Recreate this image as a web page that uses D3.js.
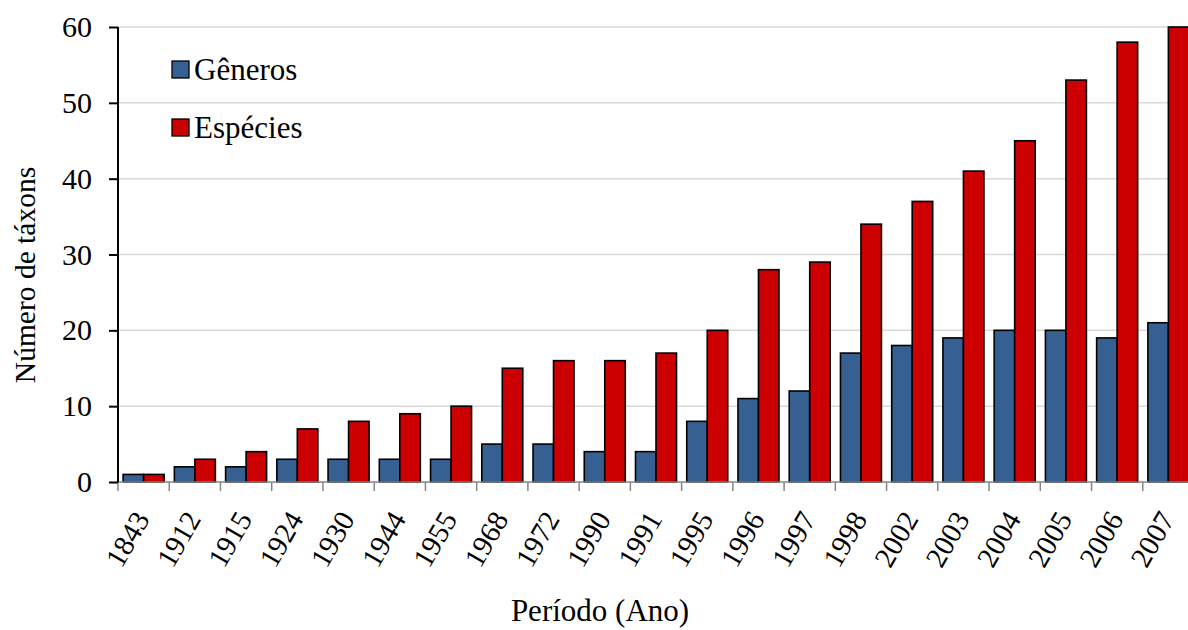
<!DOCTYPE html>
<html><head><meta charset="utf-8">
<script src="https://cdn.jsdelivr.net/npm/d3@7"></script>
<style>body{margin:0;background:#fff}svg{display:block}</style>
</head><body><svg id="c" width="1188" height="630"></svg>
<script>
const categories=["1843","1912","1915","1924","1930","1944","1955","1968","1972","1990","1991","1995","1996","1997","1998","2002","2003","2004","2005","2006","2007"];
const generos=[1,2,2,3,3,3,3,5,5,4,4,8,11,12,17,18,19,20,20,19,21];
const especies=[1,3,4,7,8,9,10,15,16,16,17,20,28,29,34,37,41,45,53,58,60];
const seriesNames=["Gêneros","Espécies"];
const colors=["#376092","#CC0000"];
const yTicks=[0,10,20,30,40,50,60];

(function(){
const FF="'Liberation Serif'";
const svg=d3.select("#c");
const pL=118,pR=1194,pT=27,pB=482;
const x=d3.scaleBand().domain(categories).range([pL,pR]).paddingInner(0).paddingOuter(0);
const x1=d3.scaleBand().domain([0,1]).range([0,x.bandwidth()]).paddingOuter(0.25).paddingInner(0);
const y=d3.scaleLinear().domain([0,60]).range([pB,pT]);

svg.append("g").selectAll("line").data(yTicks.filter(d=>d>0)).join("line")
 .attr("x1",pL).attr("x2",1188).attr("y1",d=>y(d)).attr("y2",d=>y(d))
 .attr("stroke","#d9d9d9").attr("stroke-width",1.5);

const data=categories.map((c,i)=>({c,v:[generos[i],especies[i]]}));
const g=svg.append("g");
data.forEach(d=>{
  d.v.forEach((v,k)=>{
    g.append("rect").attr("x",x(d.c)+x1(k)).attr("y",y(v)).attr("width",x1.bandwidth()).attr("height",y(0)-y(v))
     .attr("fill",colors[k]).attr("stroke","#000").attr("stroke-width",1.6);
  });
});

const xa=svg.append("g");
xa.append("line").attr("x1",pL).attr("x2",1188).attr("y1",pB).attr("y2",pB).attr("stroke","#868686").attr("stroke-width",1.5);
const bounds=categories.map(c=>x(c));
xa.selectAll("line.t").data(bounds).join("line").attr("class","t")
 .attr("x1",d=>d).attr("x2",d=>d).attr("y1",pB).attr("y2",pB+9).attr("stroke","#868686").attr("stroke-width",1.5);
xa.selectAll("text").data(categories).join("text")
 .attr("transform",d=>`translate(${x(d)+x.bandwidth()/2+7},${pB+37}) rotate(-60)`)
 .attr("text-anchor","end").style("font-family",FF).style("font-size","29px").attr("fill","#000").text(d=>d);

const ya=svg.append("g").attr("transform",`translate(${pL},0)`);
ya.call(d3.axisLeft(y).tickValues(yTicks).tickSize(9).tickPadding(17).tickFormat(d3.format("d")));
ya.select(".domain").attr("stroke","#000").attr("stroke-width",2).attr("d",`M0,${pT}V${pB}`);
ya.selectAll(".tick line").attr("stroke","#000").attr("stroke-width",2);
ya.selectAll(".tick text").style("font-size","30px").style("font-family",FF).attr("fill","#000");

svg.append("text").attr("transform","translate(35,275) rotate(-90)").attr("text-anchor","middle")
 .style("font-family",FF).style("font-size","29.5px").attr("fill","#000").text("Número de táxons");
svg.append("text").attr("x",600).attr("y",621).attr("text-anchor","middle")
 .style("font-family",FF).style("font-size","31px").attr("fill","#000").text("Período (Ano)");

const lg=svg.append("g");
seriesNames.forEach((n,k)=>{
  const yy=61+k*58;
  lg.append("rect").attr("x",172).attr("y",yy).attr("width",17).attr("height",17).attr("fill",colors[k]).attr("stroke","#000").attr("stroke-width",1.3);
  lg.append("text").attr("x",194).attr("y",yy+19).style("font-family",FF).style("font-size","31px").attr("fill","#000").text(n);
});
})();
</script></body></html>
